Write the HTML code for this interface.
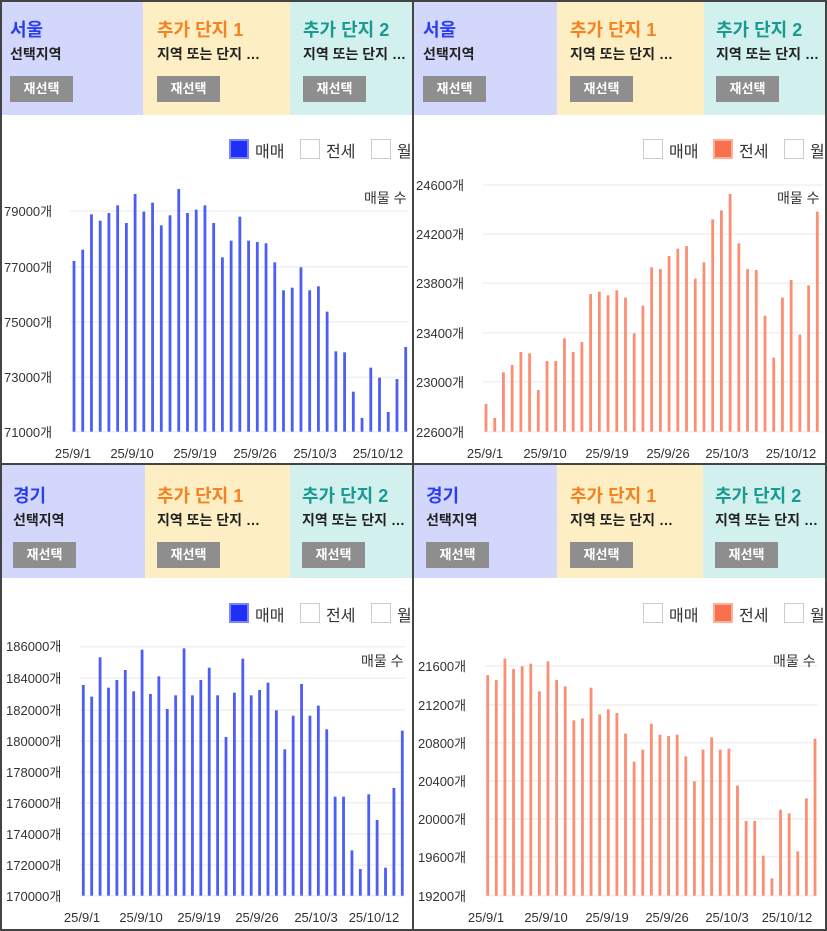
<!DOCTYPE html>
<html><head><meta charset="utf-8"><style>
*{margin:0;padding:0;box-sizing:border-box}
body{width:827px;height:931px;position:relative;overflow:hidden;background:#fff;font-family:"Liberation Sans","Noto Sans CJK KR",sans-serif}
.p{position:absolute;width:414px;height:466px;overflow:hidden}
.col{position:absolute;top:0;height:115px}
.t{position:absolute;left:10px;top:16px;font-size:18px;font-weight:bold}
.s{position:absolute;left:10px;top:44px;font-size:14px;font-weight:bold;color:#222;white-space:nowrap}
.b{position:absolute;left:10px;top:76px;width:63px;height:26px;background:#8e8e8e;color:#fff;font-size:13px;font-weight:bold;text-align:center;line-height:26px}
.lg{position:absolute;top:138px;font-size:16px;color:#333;white-space:nowrap;width:200px;height:24px}
.lg span{position:absolute;top:0}
.bx{width:20px;height:20px;border:1px solid #ccc;background:#fff;top:1px!important}
svg{position:absolute;left:0;top:0}
svg text{font-family:"Liberation Sans","Noto Sans CJK KR",sans-serif;fill:#333}
</style></head><body>
<div class="p" style="left:0;top:0">
 <div class="col" style="left:0;width:143px;background:#d3d7fc"></div>
 <div class="col" style="left:143px;width:147px;background:#fdeec4"></div>
 <div class="col" style="left:290px;width:124px;background:#d1f0ee"></div>
 <div class="t" style="color:#2b3ff0">서울</div><div class="s">선택지역</div><div class="b">재선택</div>
 <div class="t" style="left:157px;color:#f58220">추가 단지 1</div><div class="s" style="left:157px">지역 또는 단지 …</div><div class="b" style="left:157px">재선택</div>
 <div class="t" style="left:303px;color:#1a9a90">추가 단지 2</div><div class="s" style="left:303px">지역 또는 단지 …</div><div class="b" style="left:303px">재선택</div>
 <div class="lg" style="left:229px"><span class="bx" style="left:0;background:#1f2ff5;border:2px solid #7a86f8"></span><span style="left:26px">매매</span><span class="bx" style="left:71px"></span><span style="left:97px">전세</span><span class="bx" style="left:142px"></span><span style="left:168px">월세</span></div>
 <svg id="c1" width="414" height="466">
  <text x="4" y="216" font-size="13">79000개</text><text x="4" y="272" font-size="13">77000개</text><text x="4" y="327" font-size="13">75000개</text><text x="4" y="382" font-size="13">73000개</text><text x="4" y="437" font-size="13">71000개</text>
  <text x="364" y="203" font-size="14">매물 수</text>
  <g font-size="13" text-anchor="middle"><text x="73" y="458">25/9/1</text><text x="132" y="458">25/9/10</text><text x="195" y="458">25/9/19</text><text x="255" y="458">25/9/26</text><text x="315" y="458">25/10/3</text><text x="378" y="458">25/10/12</text></g>
 </svg>
</div>
<div class="p" style="left:413px;top:0">
 <div class="col" style="left:0;width:144px;background:#d3d7fc"></div>
 <div class="col" style="left:144px;width:147px;background:#fdeec4"></div>
 <div class="col" style="left:291px;width:124px;background:#d1f0ee"></div>
 <div class="t" style="color:#2b3ff0">서울</div><div class="s">선택지역</div><div class="b">재선택</div>
 <div class="t" style="left:157px;color:#f58220">추가 단지 1</div><div class="s" style="left:157px">지역 또는 단지 …</div><div class="b" style="left:157px">재선택</div>
 <div class="t" style="left:303px;color:#1a9a90">추가 단지 2</div><div class="s" style="left:303px">지역 또는 단지 …</div><div class="b" style="left:303px">재선택</div>
 <div class="lg" style="left:230px"><span class="bx" style="left:0"></span><span style="left:26px">매매</span><span class="bx" style="left:70px;background:#f8704e;border:2px solid #fbb09a"></span><span style="left:96px">전세</span><span class="bx" style="left:141px"></span><span style="left:167px">월세</span></div>
 <svg id="c2" width="414" height="466">
  <text x="3" y="190" font-size="13">24600개</text><text x="3" y="239" font-size="13">24200개</text><text x="3" y="288" font-size="13">23800개</text><text x="3" y="338" font-size="13">23400개</text><text x="3" y="387" font-size="13">23000개</text><text x="3" y="437" font-size="13">22600개</text>
  <text x="364" y="203" font-size="14">매물 수</text>
  <g font-size="13" text-anchor="middle"><text x="72" y="458">25/9/1</text><text x="132" y="458">25/9/10</text><text x="194" y="458">25/9/19</text><text x="255" y="458">25/9/26</text><text x="314" y="458">25/10/3</text><text x="378" y="458">25/10/12</text></g>
 </svg>
</div>
<div class="p" style="left:0;top:464px;height:467px">
 <div class="col" style="left:0;width:145px;background:#d3d7fc;height:114px"></div>
 <div class="col" style="left:145px;width:145px;background:#fdeec4;height:114px"></div>
 <div class="col" style="left:290px;width:124px;background:#d1f0ee;height:114px"></div>
 <div class="t" style="left:13px;top:18px;color:#2b3ff0">경기</div><div class="s" style="left:13px;top:46px">선택지역</div><div class="b" style="left:13px;top:78px">재선택</div>
 <div class="t" style="left:157px;top:18px;color:#f58220">추가 단지 1</div><div class="s" style="left:157px;top:46px">지역 또는 단지 …</div><div class="b" style="left:157px;top:78px">재선택</div>
 <div class="t" style="left:302px;top:18px;color:#1a9a90">추가 단지 2</div><div class="s" style="left:302px;top:46px">지역 또는 단지 …</div><div class="b" style="left:302px;top:78px">재선택</div>
 <div class="lg" style="left:229px;top:138px"><span class="bx" style="left:0;background:#1f2ff5;border:2px solid #7a86f8"></span><span style="left:26px">매매</span><span class="bx" style="left:71px"></span><span style="left:97px">전세</span><span class="bx" style="left:142px"></span><span style="left:168px">월세</span></div>
</div>
<div class="p" style="left:413px;top:464px;height:467px">
 <div class="col" style="left:0;width:144px;background:#d3d7fc;height:114px"></div>
 <div class="col" style="left:144px;width:146px;background:#fdeec4;height:114px"></div>
 <div class="col" style="left:290px;width:125px;background:#d1f0ee;height:114px"></div>
 <div class="t" style="left:13px;top:18px;color:#2b3ff0">경기</div><div class="s" style="left:13px;top:46px">선택지역</div><div class="b" style="left:13px;top:78px">재선택</div>
 <div class="t" style="left:157px;top:18px;color:#f58220">추가 단지 1</div><div class="s" style="left:157px;top:46px">지역 또는 단지 …</div><div class="b" style="left:157px;top:78px">재선택</div>
 <div class="t" style="left:302px;top:18px;color:#1a9a90">추가 단지 2</div><div class="s" style="left:302px;top:46px">지역 또는 단지 …</div><div class="b" style="left:302px;top:78px">재선택</div>
 <div class="lg" style="left:230px;top:138px"><span class="bx" style="left:0"></span><span style="left:26px">매매</span><span class="bx" style="left:70px;background:#f8704e;border:2px solid #fbb09a"></span><span style="left:96px">전세</span><span class="bx" style="left:141px"></span><span style="left:167px">월세</span></div>
</div>
<svg id="c3" width="414" height="931" style="left:0;top:0">
 <g font-size="13"><text x="6" y="651">186000개</text><text x="6" y="683">184000개</text><text x="6" y="715">182000개</text><text x="6" y="746">180000개</text><text x="6" y="777">178000개</text><text x="6" y="808">176000개</text><text x="6" y="839">174000개</text><text x="6" y="870">172000개</text><text x="6" y="901">170000개</text></g>
 <text x="361" y="666" font-size="14">매물 수</text>
 <g font-size="13" text-anchor="middle"><text x="82" y="922">25/9/1</text><text x="141" y="922">25/9/10</text><text x="199" y="922">25/9/19</text><text x="257" y="922">25/9/26</text><text x="316" y="922">25/10/3</text><text x="374" y="922">25/10/12</text></g>
</svg>
<svg id="c4" width="414" height="931" style="left:413px;top:0">
 <g font-size="13"><text x="5" y="671">21600개</text><text x="5" y="710">21200개</text><text x="5" y="748">20800개</text><text x="5" y="786">20400개</text><text x="5" y="824">20000개</text><text x="5" y="862">19600개</text><text x="5" y="901">19200개</text></g>
 <text x="360" y="666" font-size="14">매물 수</text>
 <g font-size="13" text-anchor="middle"><text x="73" y="922">25/9/1</text><text x="133" y="922">25/9/10</text><text x="194" y="922">25/9/19</text><text x="254" y="922">25/9/26</text><text x="314" y="922">25/10/3</text><text x="374" y="922">25/10/12</text></g>
</svg>
<div style="position:absolute;left:0;top:0;width:827px;height:931px;border:2px solid #444"></div>
<div style="position:absolute;left:412px;top:0;width:2px;height:931px;background:#444"></div>
<div style="position:absolute;left:0;top:463px;width:827px;height:2px;background:#444"></div>
<script>
var NS="http://www.w3.org/2000/svg";
function chart(id,oy,base,x0,x1,tops,grids,gx0,gx1,col){
 var s=document.getElementById(id);
 grids.forEach(function(g){var l=document.createElementNS(NS,"line");l.setAttribute("x1",gx0);l.setAttribute("x2",gx1);l.setAttribute("y1",g);l.setAttribute("y2",g);l.setAttribute("stroke","#f0f0f0");l.setAttribute("stroke-width","1.5");s.insertBefore(l,s.firstChild);});
 var n=tops.length;
 tops.forEach(function(z,i){var x=x0+(x1-x0)*i/(n-1);var y=oy+z/3;var r=document.createElementNS(NS,"rect");r.setAttribute("x",x-1.4);r.setAttribute("width",2.8);r.setAttribute("y",y);r.setAttribute("height",base-y);r.setAttribute("fill",col);s.appendChild(r);});
}
chart("c1",180,431.7,74,405.7,[243,209,103,122,99,76,129,42,95,68,136,106,27,99,89,76,129,232,182,110,182,186,190,247,331,323,262,331,319,395,514,517,635,714,563,593,696,597,501],[211,266.7,321.7,377.3,431.7],70,409,"#4d5df7");
chart("c2",170,431.7,73,404.3,[702,744,607,585,546,550,660,573,573,505,546,516,372,365,376,361,383,490,407,292,297,258,236,228,326,277,148,121,72,220,297,300,437,563,383,330,494,346,125],[185,234,283.3,332.7,381.7,431.7],70,409,"#fc8e74");
chart("c3",630,895.7,83.3,402.3,[165,200,82,173,150,120,184,59,192,139,237,196,55,196,150,113,196,321,188,86,196,180,158,241,358,257,162,257,227,298,500,500,661,717,493,570,713,474,302],[646.7,678.3,710,741,772.3,802.7,833.7,865,895.7],80,405,"#4d5df7");
chart("c4",630,895.7,74.7,402,[135,150,86,117,109,101,184,94,150,169,271,265,173,253,238,249,311,395,359,281,314,318,314,379,454,359,322,359,356,467,573,573,677,745,539,550,664,505,326],[666,705,742.7,780.7,818.7,856.7,895.7],72,405,"#fc8e74");
</script>
</body></html>
